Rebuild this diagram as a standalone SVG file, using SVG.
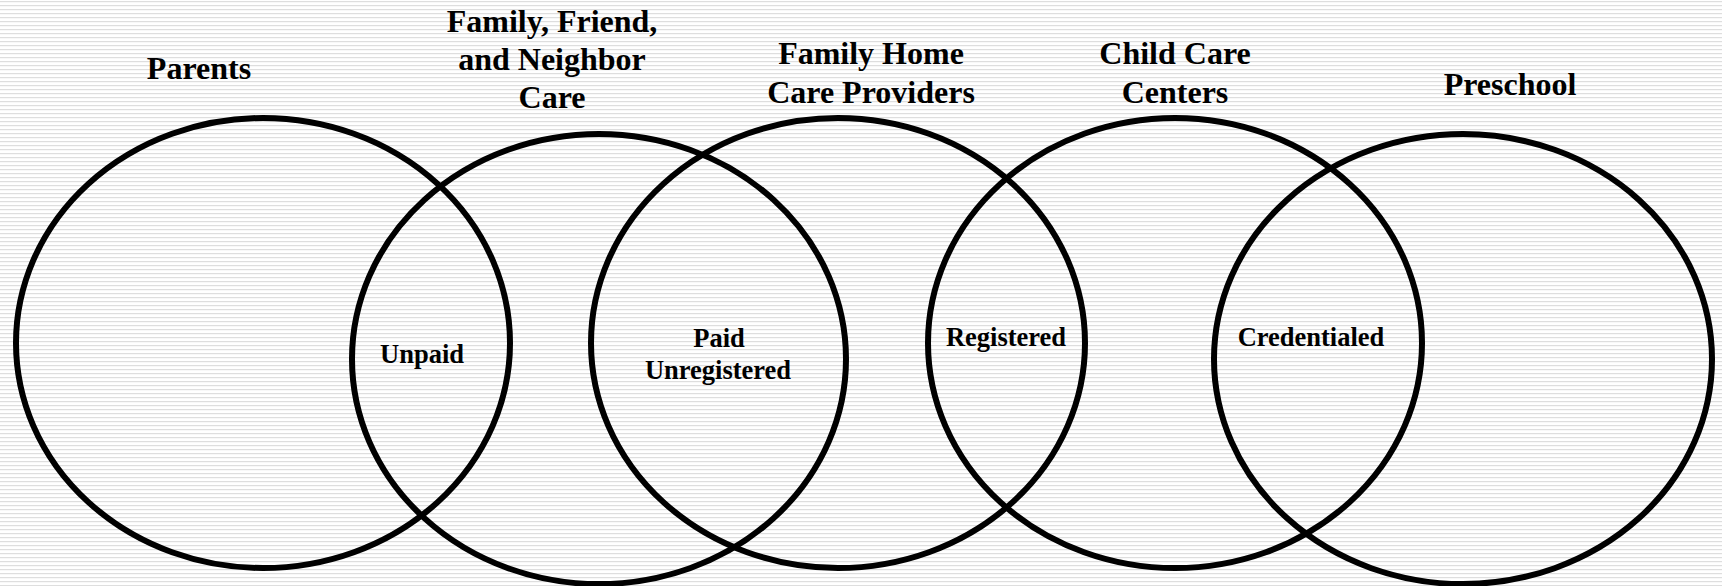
<svg xmlns="http://www.w3.org/2000/svg" width="1722" height="586" viewBox="0 0 1722 586">
<defs>
<pattern id="bg" width="8" height="4" patternUnits="userSpaceOnUse">
<rect width="8" height="4" fill="#ffffff"/>
<rect y="1" width="8" height="1.2" fill="#dedede"/>
</pattern>
<style>
.ring{fill:none;stroke:#000;stroke-width:6}
.title{font-family:"Liberation Serif","Times New Roman",serif;font-weight:bold;font-size:32px;fill:#000;text-anchor:middle}
.inner{font-family:"Liberation Serif","Times New Roman",serif;font-weight:bold;font-size:26.5px;fill:#000;text-anchor:middle}
</style>
</defs>
<rect width="1722" height="586" fill="url(#bg)"/>
<g id="parents">
<ellipse class="ring" cx="263" cy="343" rx="247" ry="225"/>
<text class="title" x="199" y="79">Parents</text>
</g>
<g id="ffn">
<ellipse class="ring" cx="599" cy="359" rx="247" ry="225"/>
<text class="title" x="552" y="32">Family, Friend,</text>
<text class="title" x="552" y="70">and Neighbor</text>
<text class="title" x="552" y="108">Care</text>
</g>
<g id="family-home">
<ellipse class="ring" cx="838" cy="343" rx="247" ry="225"/>
<text class="title" x="871" y="64">Family Home</text>
<text class="title" x="871" y="103">Care Providers</text>
</g>
<g id="child-care">
<ellipse class="ring" cx="1175" cy="343" rx="247" ry="225"/>
<text class="title" x="1175" y="64">Child Care</text>
<text class="title" x="1175" y="103">Centers</text>
</g>
<g id="preschool">
<ellipse class="ring" cx="1463" cy="359" rx="249" ry="225"/>
<text class="title" x="1510" y="95">Preschool</text>
</g>
<g id="unpaid"><text class="inner" x="422" y="363">Unpaid</text></g>
<g id="paid-unregistered">
<text class="inner" x="719" y="347">Paid</text>
<text class="inner" x="718" y="379">Unregistered</text>
</g>
<g id="registered"><text class="inner" x="1006" y="346">Registered</text></g>
<g id="credentialed"><text class="inner" x="1311" y="346">Credentialed</text></g>
<g id="connectors"></g>
</svg>
